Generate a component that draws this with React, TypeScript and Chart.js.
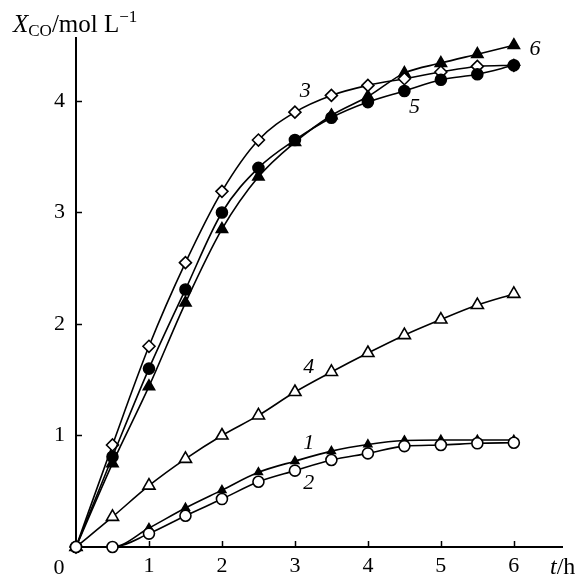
import React, { useEffect, useRef } from 'react';
import { Chart, registerables } from 'chart.js';

Chart.register(...registerables);

// time, h
const times = [0, 0.5, 1, 1.5, 2, 2.5, 3, 3.5, 4, 4.5, 5, 5.5, 6];
// X_CO, mol/L
const series1 = [0, 0, 0.17, 0.35, 0.51, 0.67, 0.77, 0.86, 0.92, 0.955, 0.96, 0.96, 0.96];
const series2 = [0, 0, 0.12, 0.28, 0.43, 0.585, 0.685, 0.78, 0.84, 0.905, 0.915, 0.93, 0.935];
const series3 = [0, 0.915, 1.8, 2.55, 3.19, 3.65, 3.9, 4.05, 4.14, 4.2, 4.26, 4.31, 4.32];
const series4 = [0, 0.27, 0.55, 0.79, 1.0, 1.18, 1.39, 1.57, 1.74, 1.9, 2.04, 2.17, 2.27];
const series5 = [0, 0.81, 1.6, 2.31, 3.0, 3.4, 3.65, 3.85, 3.99, 4.09, 4.19, 4.24, 4.32];
const series6 = [0, 0.75, 1.44, 2.19, 2.85, 3.32, 3.63, 3.87, 4.04, 4.25, 4.34, 4.42, 4.5];

const xMax = 6.66;
const yMax = 4.565;

// curve number labels: [text, t, X]
const curveLabels: [string, number, number][] = [
  ['3', 3.14, 4.09],
  ['5', 4.64, 3.94],
  ['6', 6.29, 4.46],
  ['4', 3.19, 1.61],
  ['1', 3.19, 0.93],
  ['2', 3.19, 0.57],
];

const SERIF = '"Liberation Serif", "Times New Roman", serif';

const annotPlugin = {
  id: 'annot',
  afterDraw(chart: any) {
    const ctx = chart.ctx as CanvasRenderingContext2D;
    const xs = chart.scales.x;
    const ys = chart.scales.y;
    const x0 = xs.getPixelForValue(0);
    const y0 = ys.getPixelForValue(0);
    ctx.save();
    ctx.strokeStyle = '#000';
    ctx.lineWidth = 1.5;
    // inward tick marks
    xs.ticks.forEach((t: any) => {
      if (t.value === 0) return;
      const px = Math.round(xs.getPixelForValue(t.value)) + 0.5;
      ctx.beginPath();
      ctx.moveTo(px, y0);
      ctx.lineTo(px, y0 - 6);
      ctx.stroke();
    });
    ys.ticks.forEach((t: any) => {
      if (t.value === 0) return;
      const py = Math.round(ys.getPixelForValue(t.value)) + 0.5;
      ctx.beginPath();
      ctx.moveTo(x0, py);
      ctx.lineTo(x0 + 6, py);
      ctx.stroke();
    });
    ctx.fillStyle = '#000';
    ctx.textBaseline = 'alphabetic';
    // origin label
    ctx.font = `22px ${SERIF}`;
    ctx.textAlign = 'center';
    ctx.fillText('0', x0 - 17, y0 + 27);
    // x axis title t/h
    ctx.textAlign = 'left';
    let x = xs.right - 12;
    ctx.font = `italic 24px ${SERIF}`;
    ctx.fillText('t', x, y0 + 27);
    x += ctx.measureText('t').width;
    ctx.font = `24px ${SERIF}`;
    ctx.fillText('/h', x, y0 + 27);
    // y axis title X_CO/mol L^-1
    x = 13;
    const base = 32;
    ctx.font = `italic 25px ${SERIF}`;
    ctx.fillText('X', x, base);
    x += ctx.measureText('X').width;
    ctx.font = `17px ${SERIF}`;
    ctx.fillText('CO', x, base + 4);
    x += ctx.measureText('CO').width;
    ctx.font = `25px ${SERIF}`;
    ctx.fillText('/mol L', x, base);
    x += ctx.measureText('/mol L').width;
    ctx.font = `17px ${SERIF}`;
    ctx.fillText('\u22121', x, base - 10);
    // curve labels
    ctx.font = `italic 22px ${SERIF}`;
    ctx.textAlign = 'center';
    ctx.textBaseline = 'middle';
    curveLabels.forEach(([txt, t, v]) => {
      ctx.fillText(txt, xs.getPixelForValue(t), ys.getPixelForValue(v));
    });
    ctx.restore();
  },
};

export default function App() {
  const ref = useRef<HTMLCanvasElement | null>(null);
  useEffect(() => {
    if (!ref.current) return;
    const mk = (data: number[], style: string, filled: boolean, radius: number) => ({
      data: times.map((t, i) => ({ x: t, y: data[i] })),
      borderColor: '#000',
      borderWidth: 1.6,
      pointStyle: style,
      pointRadius: radius,
      pointBorderWidth: 1.6,
      pointBorderColor: '#000',
      pointBackgroundColor: filled ? '#000' : '#fff',
      cubicInterpolationMode: 'monotone' as const,
      fill: false,
      clip: false as const,
    });
    const chart = new Chart(ref.current, {
      type: 'line',
      data: {
        datasets: [
          mk(series2, 'circle', false, 5.5),
          mk(series1, 'triangle', true, 4.5),
          mk(series5, 'circle', true, 5.5),
          mk(series3, 'rectRot', false, 6),
          mk(series6, 'triangle', true, 6.5),
          mk(series4, 'triangle', false, 7),
        ],
      },
      options: {
        animation: false,
        responsive: false,
        devicePixelRatio: 1,
        layout: { padding: { top: 38, right: 22, left: 0, bottom: 0 } },
        plugins: { legend: { display: false }, tooltip: { enabled: false }, title: { display: false } },
        scales: {
          x: {
            type: 'linear',
            min: 0,
            max: xMax,
            grid: { display: false, drawTicks: false },
            border: { display: true, color: '#000', width: 2 },
            ticks: {
              stepSize: 1,
              includeBounds: false,
              padding: 6,
              color: '#000',
              font: { family: SERIF, size: 22 },
              maxRotation: 0,
              callback: (v: any) => (v === 0 ? '' : String(v)),
            },
            afterFit: (s: any) => {
              s.height = 28;
            },
          },
          y: {
            type: 'linear',
            min: 0,
            max: yMax,
            grid: { display: false, drawTicks: false },
            border: { display: true, color: '#000', width: 2 },
            ticks: {
              stepSize: 1,
              includeBounds: false,
              padding: 11,
              color: '#000',
              font: { family: SERIF, size: 22 },
              callback: (v: any) => (v === 0 ? '' : String(v)),
            },
            afterFit: (s: any) => {
              s.width = 76;
            },
          },
        },
      },
      plugins: [annotPlugin],
    });
    return () => chart.destroy();
  }, []);
  return (
    <div style={{ position: 'absolute', left: 0, top: 0, width: 584, height: 575, background: '#fff' }}>
      <canvas ref={ref} width={584} height={575} style={{ width: 584, height: 575 }} />
    </div>
  );
}
